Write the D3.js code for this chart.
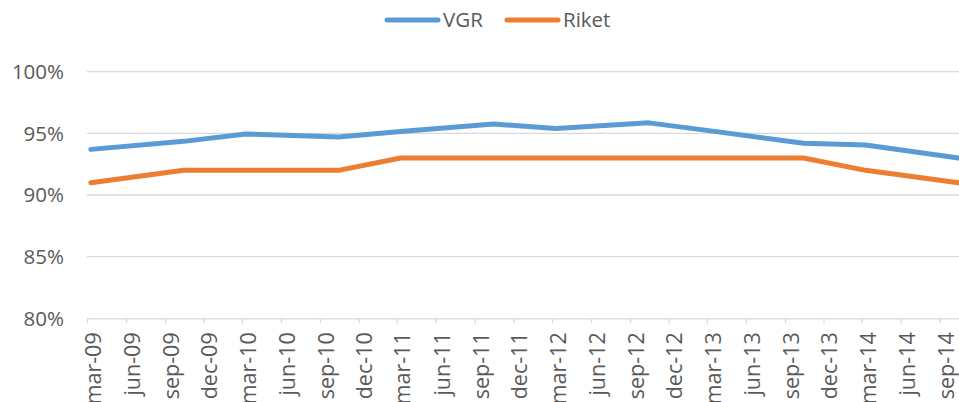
<!DOCTYPE html>
<html>
<head>
<meta charset="utf-8">
<script src="https://cdn.jsdelivr.net/npm/d3@7"></script>
<style>
  body { margin: 0; background: #fff; }
  svg { display: block; font-family: "Open Sans", sans-serif; }
</style>
</head>
<body>
<svg></svg>
<script>
let width = 959, height = 402;

// data
var pointDates = ["2009-03-10", "2009-10-15", "2010-03-10", "2010-10-15", "2011-03-10", "2011-10-15",
                  "2012-03-10", "2012-10-15", "2013-03-10", "2013-10-15", "2014-03-10", "2014-10-15"];
var vgr   = [93.7, 94.35, 94.95, 94.7, 95.15, 95.75, 95.4, 95.85, 95.2, 94.2, 94.05, 93.0];
var riket = [91, 92, 92, 92, 93, 93, 93, 93, 93, 93, 92, 91];
var tickLabels = ["mar-09", "jun-09", "sep-09", "dec-09", "mar-10", "jun-10", "sep-10", "dec-10",
                  "mar-11", "jun-11", "sep-11", "dec-11", "mar-12", "jun-12", "sep-12", "dec-12",
                  "mar-13", "jun-13", "sep-13", "dec-13", "mar-14", "jun-14", "sep-14"];
var yTicks = [80, 85, 90, 95, 100];
var seriesNames = ["VGR", "Riket"];
var colors = ["#5B9BD5", "#ED7D31"];

let svg = d3.select("svg")
    .attr("width", width)
    .attr("height", height);

let parse = d3.timeParse("%Y-%m-%d");
let tickDates = d3.timeMonth.range(new Date(2009, 2, 1), new Date(2014, 9, 1), 3);

var x = d3.scaleTime()
    .domain([new Date(2009, 2, 1), parse("2014-10-15")])
    .range([87, 958.5]);

var y = d3.scaleLinear()
    .domain([80, 100])
    .range([318.3, 71.7]);

// gridlines
svg.append("g")
    .selectAll("line")
    .data(yTicks.slice(1))
    .enter()
    .append("line")
      .attr("x1", 87)
      .attr("x2", width)
      .attr("y1", d => y(d))
      .attr("y2", d => y(d))
      .attr("stroke", "#d9d9d9")
      .attr("stroke-width", 1.3);

// y labels
svg.append("g")
    .selectAll("text")
    .data(yTicks)
    .enter()
    .append("text")
      .attr("x", 64)
      .attr("y", d => y(d))
      .attr("dy", "0.36em")
      .attr("text-anchor", "end")
      .style("font-size", "20.5px")
      .style("fill", "#595959")
      .text(d => d + "%");

// x axis
let xAxis = svg.append("g")
    .attr("transform", "translate(0," + y(80) + ")")
    .call(d3.axisBottom(x)
        .tickValues(tickDates)
        .tickSize(5)
        .tickSizeOuter(0)
        .tickFormat((d, i) => tickLabels[i]));

xAxis.select(".domain")
    .attr("d", "M87,0.5H" + width)
    .attr("stroke", "#d9d9d9")
    .attr("stroke-width", 1.3);
xAxis.selectAll(".tick line")
    .attr("stroke", "#d9d9d9")
    .attr("stroke-width", 1.3);
// rotated labels, shifted slightly right of their tick as in the original
xAxis.selectAll(".tick text")
    .attr("transform", "rotate(-90)")
    .attr("x", -14)
    .attr("y", 5.5)
    .attr("dy", "0.36em")
    .attr("dx", 0)
    .attr("text-anchor", "end")
    .style("font-family", "'Open Sans', sans-serif")
    .style("font-size", "21.5px")
    .style("fill", "#595959");

// lines
var line = d3.line()
    .x((d, i) => x(parse(pointDates[i])))
    .y(d => y(d));

[vgr, riket].forEach(function(s, k) {
  svg.append("path")
      .datum(s)
      .attr("d", line)
      .attr("fill", "none")
      .attr("stroke", colors[k])
      .attr("stroke-width", 5)
      .attr("stroke-linejoin", "round")
      .attr("stroke-linecap", "round");
});

// legend
var legendX = [385, 505];
seriesNames.forEach(function(n, k) {
  svg.append("line")
      .attr("x1", legendX[k] + 2)
      .attr("x2", legendX[k] + 53)
      .attr("y1", 20)
      .attr("y2", 20)
      .attr("stroke", colors[k])
      .attr("stroke-width", 5)
      .attr("stroke-linecap", "round");
  svg.append("text")
      .attr("x", legendX[k] + 58)
      .attr("y", 20)
      .attr("dy", "0.36em")
      .style("font-size", "20.5px")
      .style("fill", "#595959")
      .text(n);
});
</script>
</body>
</html>
